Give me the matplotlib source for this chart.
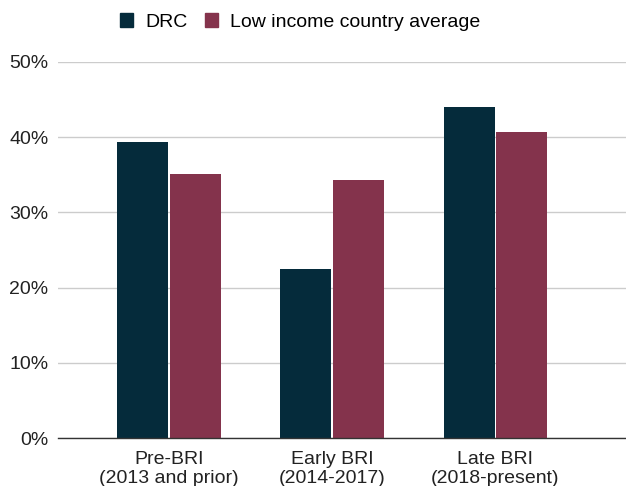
import numpy as np
import matplotlib.pyplot as plt
from matplotlib.patches import Patch
from matplotlib.ticker import PercentFormatter

# Share of loans per period, DRC vs low income countries
periods = ['Pre-BRI\n(2013 and prior)', 'Early BRI\n(2014-2017)', 'Late BRI\n(2018-present)']
drc = [39.3, 22.5, 44.0]
low_income_avg = [35.1, 34.3, 40.7]
series_names = ['DRC', 'Low income country average']

DRC_COLOR = '#052b3b'
LIC_COLOR = '#84334c'

plt.rcParams['font.family'] = ['Liberation Sans', 'DejaVu Sans']

fig = plt.figure(figsize=(6.26, 4.86), dpi=100)
ax = fig.add_axes([58 / 626, 48 / 486, 568 / 626, 376 / 486])

x = np.arange(len(periods))
w = 0.313
off = 0.161
ax.bar(x - off, drc, width=w, color=DRC_COLOR, zorder=3)
ax.bar(x + off, low_income_avg, width=w, color=LIC_COLOR, zorder=3)

ax.set_ylim(0, 50)
ax.set_xlim(-0.68, 2.80)
ax.set_yticks([0, 10, 20, 30, 40, 50])
ax.yaxis.set_major_formatter(PercentFormatter(decimals=0))
ax.set_xticks(x)
ax.set_xticklabels(periods)
ax.tick_params(axis='both', length=0, labelsize=14, colors='#222222')
ax.tick_params(axis='y', pad=7)
ax.tick_params(axis='x', pad=9)
for lbl in ax.get_xticklabels():
    lbl.set_linespacing(1.2)

ax.grid(axis='y', color='#cccccc', linewidth=1, zorder=0)
for side in ['top', 'right', 'left']:
    ax.spines[side].set_visible(False)
ax.spines['bottom'].set_color('#333333')
ax.spines['bottom'].set_linewidth(1)
ax.spines['bottom'].set_zorder(4)

handles = [Patch(color=DRC_COLOR), Patch(color=LIC_COLOR)]
fig.legend(handles, series_names, loc='center left', bbox_to_anchor=(112 / 626, 1 - 22 / 486),
           ncol=2, frameon=False, fontsize=14, handlelength=0.7, handleheight=0.7,
           handletextpad=0.6, columnspacing=0.9, borderaxespad=0)

fig.savefig('out.png', dpi=100)
